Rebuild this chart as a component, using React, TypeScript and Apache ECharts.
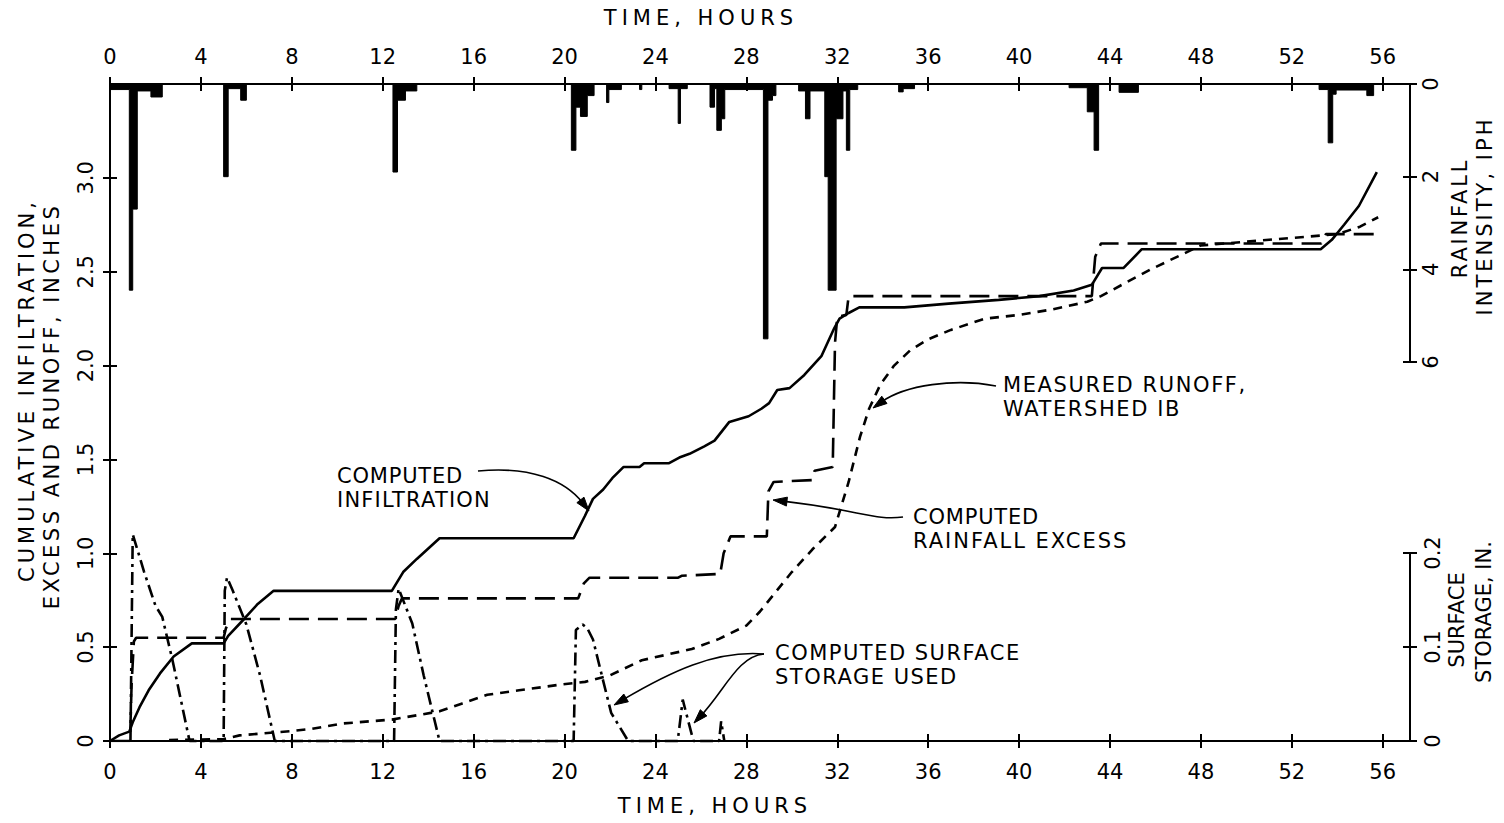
import React, { useEffect, useRef } from "react";
import * as echarts from "echarts";

const FONT = "DejaVu Sans";

// Tick labels
const timeTicks = [0, 4, 8, 12, 16, 20, 24, 28, 32, 36, 40, 44, 48, 52, 56];
const depthTicks = [0, 0.5, 1.0, 1.5, 2.0, 2.5, 3.0];
const rainTicks = [0, 2, 4, 6];
const storageTicks = [0, 0.1, 0.2];

// [hour, inches]
const computedInfiltration: [number, number][] = [
  [0, 0], [0.4, 0.03], [0.85, 0.05], [1.0, 0.1], [1.3, 0.18], [1.7, 0.27], [2.2, 0.36],
  [2.8, 0.45], [3.6, 0.52], [5.0, 0.52], [5.2, 0.56], [5.9, 0.65], [6.5, 0.73], [7.2, 0.8],
  [12.4, 0.8], [12.9, 0.9], [13.5, 0.97], [14.5, 1.08], [20.4, 1.08], [20.9, 1.2],
  [21.25, 1.29], [21.7, 1.34], [22.1, 1.4], [22.6, 1.46], [23.3, 1.46], [23.5, 1.48],
  [24.6, 1.48], [25.05, 1.51], [25.5, 1.53], [26.15, 1.57], [26.6, 1.6], [27.25, 1.7],
  [28.1, 1.73], [28.66, 1.77], [29.0, 1.8], [29.36, 1.87], [29.9, 1.88], [30.55, 1.95],
  [31.3, 2.05], [31.87, 2.2], [32.1, 2.25], [32.5, 2.28], [32.97, 2.31], [34.95, 2.31],
  [36.9, 2.33], [39.1, 2.35], [40.9, 2.37], [42.4, 2.4], [43.2, 2.43], [43.65, 2.52],
  [44.6, 2.52], [45.4, 2.62], [53.27, 2.62], [53.76, 2.67], [54.3, 2.75], [54.95, 2.85],
  [55.74, 3.03],
];

const computedExcess: [number, number][] = [
  [0, 0], [0.88, 0], [0.95, 0.3], [1.05, 0.53], [1.15, 0.55], [5.0, 0.55], [5.1, 0.6],
  [5.3, 0.65], [12.55, 0.65], [12.7, 0.72], [12.85, 0.76], [20.6, 0.76], [20.85, 0.84],
  [21.1, 0.87], [25.0, 0.87], [25.15, 0.88], [26.85, 0.89], [27.0, 1.0], [27.3, 1.09],
  [28.9, 1.09], [28.97, 1.33], [29.2, 1.38], [30.9, 1.39], [31.0, 1.44], [31.8, 1.46],
  [31.9, 2.12], [32.0, 2.26], [32.4, 2.27], [32.5, 2.37], [43.2, 2.37], [43.35, 2.58],
  [43.6, 2.65], [53.3, 2.65], [53.5, 2.7], [55.7, 2.7],
];

const measuredRunoff: [number, number][] = [
  [2.6, 0.005], [5.0, 0.01], [5.7, 0.03], [8.0, 0.053], [8.9, 0.065], [10.2, 0.093],
  [12.4, 0.114], [14.5, 0.158], [15.5, 0.2], [16.6, 0.246], [18.0, 0.27], [19.8, 0.3],
  [20.9, 0.315], [22.0, 0.35], [23.4, 0.43], [25.6, 0.49], [26.8, 0.544], [28.0, 0.615],
  [28.6, 0.69], [30.0, 0.9], [30.9, 1.02], [31.9, 1.14], [32.5, 1.38], [33.0, 1.62],
  [33.4, 1.77], [33.9, 1.9], [34.5, 2.0], [35.2, 2.08], [36.0, 2.14], [37.0, 2.19],
  [38.5, 2.25], [40.0, 2.27], [41.5, 2.3], [43.0, 2.34], [43.6, 2.37], [45.75, 2.51],
  [48.0, 2.64], [51.0, 2.67], [54.0, 2.7], [55.0, 2.74], [55.8, 2.79],
];

// [hour, surface storage inches]
const surfaceStorage: [number, number][] = [
  [0.9, 0], [1.0, 0.22], [1.5, 0.18], [2.0, 0.144], [2.3, 0.132], [2.75, 0.086], [3.5, 0],
  [5.0, 0], [5.05, 0.16], [5.15, 0.174], [5.4, 0.16], [6.0, 0.124], [6.6, 0.07], [7.25, 0],
  [12.5, 0], [12.58, 0.14], [12.7, 0.162], [13.3, 0.125], [13.8, 0.07], [14.5, 0],
  [20.4, 0], [20.5, 0.118], [20.8, 0.124], [21.0, 0.12], [21.25, 0.108], [21.7, 0.064],
  [22.05, 0.03], [22.8, 0], [24.98, 0], [25.2, 0.044], [25.67, 0], [26.8, 0], [26.89, 0.021],
  [27.03, 0],
];

// [start hour, rainfall intensity iph]
const rainfallIntensity: [number, number][] = [
  [0.0, 0.12], [0.85, 4.45], [1.0, 2.7], [1.2, 0.15], [1.8, 0.28], [2.3, 0],
  [5.0, 2.0], [5.2, 0.1], [5.75, 0.35], [6.0, 0],
  [12.45, 1.9], [12.65, 0.35], [13.0, 0.15], [13.5, 0],
  [20.3, 1.43], [20.5, 0.5], [20.7, 0.7], [21.0, 0.25], [21.3, 0],
  [21.85, 0.4], [21.95, 0.12], [22.5, 0], [23.3, 0.12], [23.4, 0],
  [24.6, 0.1], [25.0, 0.85], [25.1, 0.1], [25.4, 0],
  [26.4, 0.5], [26.6, 0.1], [26.7, 1.0], [26.9, 0.75], [27.05, 0.12],
  [28.75, 5.5], [28.95, 0.35], [29.15, 0.25], [29.3, 0],
  [30.3, 0.15], [30.6, 0.75], [30.8, 0.15], [31.45, 2.0], [31.6, 4.45], [31.95, 0.75],
  [32.25, 0.15], [32.4, 1.43], [32.55, 0.12], [32.9, 0],
  [34.7, 0.17], [34.9, 0.1], [35.4, 0],
  [42.2, 0.08], [43.0, 0.6], [43.3, 1.43], [43.5, 0],
  [44.4, 0.18], [45.25, 0],
  [53.2, 0.12], [53.6, 1.27], [53.8, 0.22], [53.95, 0.13], [55.3, 0.25], [55.6, 0],
];

const X_MAX = 57.2;

const tickStyle = { color: "#000", width: 2 };
const labelStyle = { color: "#000", fontSize: 21, fontFamily: FONT };

function fmt(v: number) {
  return v === 0 ? "0" : v.toFixed(1);
}

function arrowParts(
  p1: [number, number],
  c1: [number, number],
  c2: [number, number],
  p2: [number, number]
) {
  const dx = p2[0] - c2[0];
  const dy = p2[1] - c2[1];
  const len = Math.hypot(dx, dy) || 1;
  const ux = dx / len;
  const uy = dy / len;
  const L = 14;
  const W = 4.5;
  const bx = p2[0] - ux * L;
  const by = p2[1] - uy * L;
  return [
    {
      type: "bezierCurve",
      shape: {
        x1: p1[0], y1: p1[1], cpx1: c1[0], cpy1: c1[1], cpx2: c2[0], cpy2: c2[1],
        x2: bx + ux * 4, y2: by + uy * 4,
      },
      style: { stroke: "#000", lineWidth: 1.6, fill: null },
    },
    {
      type: "polygon",
      shape: {
        points: [
          [p2[0], p2[1]],
          [bx - uy * W, by + ux * W],
          [bx + uy * W, by - ux * W],
        ],
      },
      style: { fill: "#000", stroke: "#000", lineWidth: 1 },
    },
  ];
}

function txt(text: string, x: number, y: number, opts: any = {}) {
  return {
    type: "text",
    x,
    y,
    rotation: opts.rotation || 0,
    style: {
      text,
      fill: "#000",
      fontSize: opts.fontSize || 21,
      fontFamily: FONT,
      align: opts.align || "left",
      verticalAlign: "middle",
      textAlign: opts.align || "left",
      textVerticalAlign: "middle",
    },
  };
}

const spacedTexts: Record<string, string> = {
  "TIME, HOURS": "5px",
  "CUMULATIVE INFILTRATION,": "4px",
  "EXCESS AND RUNOFF, INCHES": "3.5px",
  "RAINFALL": "2.8px",
  "INTENSITY, IPH": "3px",
  "COMPUTED": "0.8px",
  "INFILTRATION": "1.2px",
  "MEASURED RUNOFF,": "1.6px",
  "WATERSHED IB": "1.6px",
  "RAINFALL EXCESS": "2px",
  "COMPUTED SURFACE": "1.5px",
  "STORAGE USED": "1.5px",
};

export default function App() {
  const ref = useRef<HTMLDivElement>(null);

  useEffect(() => {
    document.body.style.margin = "0";
    const el = ref.current!;
    const chart = echarts.init(el, null, { renderer: "svg" });

    const baseX = (gridIndex: number, position: string, inside: boolean, showLabel: boolean, showLine: boolean, margin = 20) => ({
      type: "value",
      gridIndex,
      position,
      min: 0,
      max: X_MAX,
      axisLine: { show: showLine, onZero: false, lineStyle: tickStyle },
      axisTick: { show: true, inside, length: 7, customValues: timeTicks, lineStyle: tickStyle },
      axisLabel: { show: showLabel, customValues: timeTicks, margin, ...labelStyle },
      splitLine: { show: false },
    });

    const hiddenX = (gridIndex: number) => ({
      type: "value",
      gridIndex,
      min: 0,
      max: X_MAX,
      show: false,
      axisLine: { onZero: false },
    });

    const baseY = (gridIndex: number, position: string, min: number, max: number, ticks: number[], inside: boolean, showLabel: boolean, showLine: boolean, inverse: boolean, margin: number) => ({
      type: "value",
      gridIndex,
      position,
      min,
      max,
      inverse,
      axisLine: { show: showLine, onZero: false, lineStyle: tickStyle },
      axisTick: { show: true, inside, length: 7, customValues: ticks, lineStyle: tickStyle },
      axisLabel: { show: showLabel, customValues: ticks, rotate: 90, margin, formatter: (v: number) => (ticks === rainTicks ? String(v) : fmt(v)), ...labelStyle },
      splitLine: { show: false },
    });

    const graphics: any[] = [
      txt("TIME, HOURS", 701, 18, { align: "center" }),
      txt("TIME, HOURS", 715, 806, { align: "center" }),
      txt("CUMULATIVE INFILTRATION,", 27, 390, { align: "center", rotation: Math.PI / 2 }),
      txt("EXCESS AND RUNOFF, INCHES", 52, 406, { align: "center", rotation: Math.PI / 2 }),
      txt("RAINFALL", 1460, 218, { align: "center", rotation: Math.PI / 2 }),
      txt("INTENSITY, IPH", 1485, 216, { align: "center", rotation: Math.PI / 2 }),
      txt("SURFACE", 1457, 620, { align: "center", rotation: Math.PI / 2 }),
      txt("STORAGE, IN.", 1484, 612, { align: "center", rotation: Math.PI / 2 }),
      txt("COMPUTED", 337, 476),
      txt("INFILTRATION", 337, 500),
      txt("MEASURED RUNOFF,", 1003, 385),
      txt("WATERSHED IB", 1003, 409),
      txt("COMPUTED", 913, 517),
      txt("RAINFALL EXCESS", 913, 541),
      txt("COMPUTED SURFACE", 775, 653),
      txt("STORAGE USED", 775, 677),
      ...arrowParts([478, 471], [530, 466], [565, 480], [589, 511]),
      ...arrowParts([996, 386], [955, 378], [905, 385], [873, 408]),
      ...arrowParts([903, 517], [875, 521], [860, 510], [773, 500]),
      ...arrowParts([764, 654], [715, 650], [670, 672], [614, 705]),
      ...arrowParts([764, 654], [738, 656], [725, 690], [694, 723]),
    ];

    const option: any = {
      animation: false,
      backgroundColor: "#fff",
      grid: [
        { left: 110, top: 84, width: 1300, height: 657, containLabel: false, outerBoundsMode: "none" },
        { left: 110, top: 84, width: 1300, height: 278, containLabel: false, outerBoundsMode: "none" },
        { left: 110, top: 553, width: 1300, height: 188, containLabel: false, outerBoundsMode: "none" },
      ],
      xAxis: [
        baseX(0, "bottom", false, true, true, 20),
        baseX(0, "bottom", true, false, false),
        baseX(0, "top", false, true, true, 17),
        baseX(0, "top", true, false, false),
        hiddenX(1),
        hiddenX(2),
      ],
      yAxis: [
        baseY(0, "left", 0, 3.5, depthTicks, false, true, true, false, 14),
        baseY(0, "left", 0, 3.5, depthTicks, true, false, false, false, 14),
        baseY(1, "right", 0, 6, rainTicks, false, true, true, true, 10),
        baseY(1, "right", 0, 6, rainTicks, true, false, false, true, 10),
        baseY(2, "right", 0, 0.2, storageTicks, false, true, true, false, 12),
        baseY(2, "right", 0, 0.2, storageTicks, true, false, false, false, 12),
      ],
      series: [
        {
          name: "Rainfall intensity",
          type: "line",
          xAxisIndex: 4,
          yAxisIndex: 2,
          step: "end",
          symbol: "none",
          data: rainfallIntensity,
          lineStyle: { color: "#000", width: 1 },
          areaStyle: { color: "#000", opacity: 1 },
        },
        {
          name: "Computed infiltration",
          type: "line",
          xAxisIndex: 0,
          yAxisIndex: 0,
          symbol: "none",
          data: computedInfiltration,
          lineStyle: { color: "#000", width: 2.6 },
        },
        {
          name: "Computed rainfall excess",
          type: "line",
          xAxisIndex: 0,
          yAxisIndex: 0,
          symbol: "none",
          data: computedExcess,
          lineStyle: { color: "#000", width: 2.6, type: [20, 9] },
        },
        {
          name: "Measured runoff",
          type: "line",
          xAxisIndex: 0,
          yAxisIndex: 0,
          symbol: "none",
          data: measuredRunoff,
          lineStyle: { color: "#000", width: 2.6, type: [9, 7] },
        },
        {
          name: "Computed surface storage used",
          type: "line",
          xAxisIndex: 5,
          yAxisIndex: 4,
          symbol: "none",
          clip: false,
          data: surfaceStorage,
          lineStyle: { color: "#000", width: 2.6, type: [13, 5, 3, 5] },
        },
      ],
      graphic: graphics,
    };

    chart.setOption(option);

    const applySpacing = () => {
      el.querySelectorAll("text").forEach((t) => {
        const s = (t.textContent || "").trim();
        if (spacedTexts[s]) (t as SVGTextElement).style.letterSpacing = spacedTexts[s];
      });
    };
    applySpacing();
    chart.on("finished", applySpacing);

    return () => {
      chart.dispose();
    };
  }, []);

  return (
    <div
      ref={ref}
      style={{ position: "fixed", left: 0, top: 0, width: 1504, height: 823, background: "#fff" }}
    />
  );
}
